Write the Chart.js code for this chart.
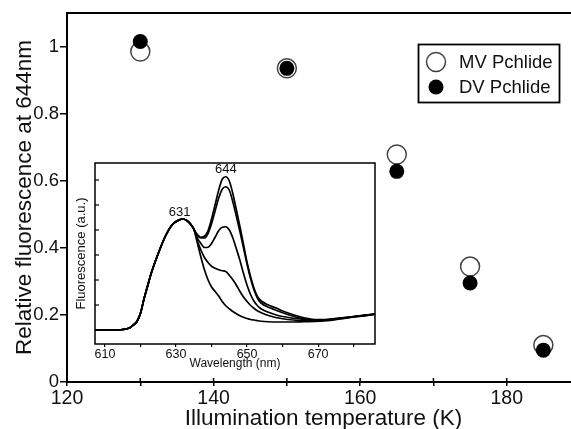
<!DOCTYPE html>
<html>
<head>
<meta charset="utf-8">
<script src="https://cdn.jsdelivr.net/npm/chart.js@4/dist/chart.umd.min.js"></script>
<style>
  html, body { margin: 0; padding: 0; background: #fff; overflow: hidden; width: 571px; height: 429px; }
  #main { position: absolute; left: 0; top: 0; width: 600px; height: 429px; }
  #inset { position: absolute; left: 70px; top: 158px; width: 310px; height: 212px; }
</style>
</head>
<body>
<canvas id="main" width="600" height="429"></canvas>
<canvas id="inset" width="310" height="212"></canvas>
<script>
// Relative 644 nm fluorescence versus illumination temperature
const temperatures = [130, 150, 165, 175, 185];
const mvPchlide = [0.985, 0.935, 0.678, 0.344, 0.110];
const dvPchlide = [1.015, 0.935, 0.628, 0.295, 0.095];
const temperatureTicks = [120, 130, 140, 150, 160, 170, 180, 190];
const temperatureLabels = [120, 140, 160, 180];
const fluorescenceTicks = [0, 0.2, 0.4, 0.6, 0.8, 1];

// Inset: emission spectra (arbitrary units)
const wavelengths = [607, 612, 615, 617, 618, 619, 620, 621, 622, 623, 625, 627, 629, 631, 632, 633, 634, 635,
  636, 637, 638, 639, 640, 641, 642, 643, 644, 645, 646, 647, 648, 649, 650, 651, 652, 653, 654,
  656, 658, 660, 663, 666, 669, 672, 676, 680, 686];
const spectrumA = [0, 0, 0.02, 0.09, 0.20, 0.34, 0.67, 1.25, 1.76, 2.26, 3.06, 3.75, 4.22, 4.41, 4.44, 4.38, 4.25, 4.04,
  3.82, 3.71, 3.75, 3.97, 4.44, 5.01, 5.59, 6.03, 6.13, 5.96, 5.45, 4.80, 4.13, 3.42, 2.70, 2.12, 1.65, 1.32, 1.16,
  1.00, 0.89, 0.76, 0.61, 0.49, 0.42, 0.42, 0.48, 0.54, 0.64];
const spectrumB = [0, 0, 0.02, 0.09, 0.20, 0.34, 0.67, 1.25, 1.76, 2.26, 3.06, 3.75, 4.22, 4.41, 4.44, 4.38, 4.25, 4.04,
  3.78, 3.68, 3.68, 3.86, 4.25, 4.76, 5.27, 5.63, 5.73, 5.59, 5.12, 4.54, 3.93, 3.28, 2.63, 2.05, 1.58, 1.25, 1.07,
  0.91, 0.80, 0.69, 0.55, 0.45, 0.40, 0.41, 0.47, 0.54, 0.64];
const spectrumC = [0, 0, 0.02, 0.09, 0.20, 0.34, 0.67, 1.25, 1.76, 2.26, 3.06, 3.75, 4.22, 4.41, 4.44, 4.38, 4.25, 4.04,
  3.68, 3.46, 3.30, 3.31, 3.46, 3.71, 3.97, 4.11, 4.13, 4.00, 3.68, 3.24, 2.78, 2.26, 1.79, 1.41, 1.14, 0.96, 0.84,
  0.71, 0.61, 0.54, 0.47, 0.42, 0.38, 0.40, 0.46, 0.53, 0.63];
const spectrumD = [0, 0, 0.02, 0.09, 0.20, 0.34, 0.67, 1.25, 1.76, 2.26, 3.06, 3.75, 4.22, 4.41, 4.44, 4.38, 4.25, 4.04,
  3.57, 3.20, 2.90, 2.70, 2.55, 2.47, 2.41, 2.37, 2.34, 2.19, 2.01, 1.79, 1.54, 1.32, 1.14, 0.98, 0.86, 0.76, 0.69,
  0.58, 0.50, 0.45, 0.40, 0.37, 0.36, 0.38, 0.45, 0.53, 0.63];
const spectrumE = [0, 0, 0.02, 0.09, 0.20, 0.34, 0.67, 1.25, 1.76, 2.26, 3.06, 3.75, 4.22, 4.41, 4.44, 4.38, 4.25, 4.04,
  3.49, 2.92, 2.41, 2.01, 1.72, 1.54, 1.36, 1.14, 0.97, 0.85, 0.74, 0.65, 0.57, 0.51, 0.46, 0.42, 0.40, 0.37, 0.35,
  0.33, 0.32, 0.32, 0.32, 0.33, 0.34, 0.37, 0.44, 0.52, 0.62];
const wavelengthTicks = [610, 620, 630, 640, 650, 660, 670, 680];
const wavelengthLabels = [610, 630, 650, 670];
const insetFluorTicks = [0, 1, 2, 3, 4, 5, 6];
const peakWavelengths = [631, 644];

const FONT = "'Liberation Sans', Arial, Helvetica, sans-serif";
const INK = '#111';

const toPoints = (xs, ys) => xs.map((x, i) => ({ x: x, y: ys[i] }));
const fixedTicks = list => scale => { scale.ticks = list.map(v => ({ value: v })); };

// Frame extras for the main plot: top rule, inward x ticks, and the boxed legend
const mainExtras = {
  id: 'mainExtras',
  afterDraw(chart) {
    const { ctx, chartArea } = chart;
    const x = chart.scales.x;
    ctx.save();
    ctx.strokeStyle = '#000';
    ctx.lineWidth = 2;
    ctx.beginPath();
    ctx.moveTo(chartArea.left - 1, chartArea.top);
    ctx.lineTo(chartArea.right + 1, chartArea.top);
    ctx.stroke();

    ctx.lineWidth = 1.5;
    temperatureTicks.forEach(v => {
      const px = x.getPixelForValue(v);
      ctx.beginPath();
      ctx.moveTo(px, chartArea.bottom);
      ctx.lineTo(px, chartArea.bottom - 4);
      ctx.stroke();
    });

    // legend box
    const bx = 418.5, by = 44.5, bw = 141, bh = 58;
    ctx.lineWidth = 1.8;
    ctx.strokeRect(bx, by, bw, bh);
    ctx.font = '18.5px ' + FONT;
    ctx.textBaseline = 'middle';
    ctx.textAlign = 'left';
    chart.data.datasets.forEach((ds, i) => {
      const cy = 62 + i * 25;
      ctx.beginPath();
      ctx.arc(436, cy, ds.pointRadius, 0, Math.PI * 2);
      ctx.fillStyle = ds.pointBackgroundColor;
      ctx.fill();
      if (ds.pointBorderWidth > 0) {
        ctx.lineWidth = ds.pointBorderWidth;
        ctx.strokeStyle = ds.pointBorderColor;
        ctx.stroke();
      }
      ctx.fillStyle = INK;
      ctx.fillText(ds.label, 459, cy + 1);
    });
    ctx.restore();
  }
};

new Chart(document.getElementById('main'), {
  type: 'scatter',
  data: {
    datasets: [
      {
        label: 'MV Pchlide',
        data: toPoints(temperatures, mvPchlide),
        pointRadius: 9.5,
        pointBackgroundColor: '#fff',
        pointBorderColor: '#444',
        pointBorderWidth: 1.5,
        order: 2
      },
      {
        label: 'DV Pchlide',
        data: toPoints(temperatures, dvPchlide),
        pointRadius: 7.5,
        pointBackgroundColor: '#000',
        pointBorderColor: '#000',
        pointBorderWidth: 0,
        order: 1
      }
    ]
  },
  options: {
    responsive: false,
    animation: false,
    devicePixelRatio: 1,
    layout: { padding: { top: 13, right: 20, left: 0, bottom: 0 } },
    plugins: { legend: { display: false }, tooltip: { enabled: false } },
    scales: {
      x: {
        type: 'linear',
        min: 120,
        max: 190,
        afterFit: s => { s.height = 47; },
        afterBuildTicks: fixedTicks(temperatureTicks),
        ticks: {
          callback: v => temperatureLabels.includes(v) ? String(v) : '',
          autoSkip: false,
          maxRotation: 0,
          padding: 1,
          color: INK,
          font: { family: FONT, size: 19.5 }
        },
        grid: { drawOnChartArea: false, tickLength: 4, color: '#000', lineWidth: 1.5 },
        border: { color: '#000', width: 2 },
        title: {
          display: true,
          text: 'Illumination temperature (K)',
          color: INK,
          font: { family: FONT, size: 22.5, lineHeight: 0.95 },
          padding: { top: 0, bottom: 0 }
        }
      },
      y: {
        type: 'linear',
        min: 0,
        max: 1.1,
        afterFit: s => { s.width = 67; },
        afterBuildTicks: fixedTicks(fluorescenceTicks),
        ticks: {
          callback: v => String(v),
          padding: 1,
          color: INK,
          font: { family: FONT, size: 18.5 }
        },
        grid: { drawOnChartArea: false, tickLength: 7, color: '#000', lineWidth: 1.5 },
        border: { color: '#000', width: 2 },
        title: {
          display: true,
          text: 'Relative fluorescence at 644nm',
          color: INK,
          font: { family: FONT, size: 22.5 },
          padding: { top: 11, bottom: 0 }
        }
      }
    }
  },
  plugins: [mainExtras]
});

// Inset frame: full box, inward y ticks and peak labels
const insetExtras = {
  id: 'insetExtras',
  afterDraw(chart) {
    const { ctx, chartArea } = chart;
    const x = chart.scales.x, y = chart.scales.y;
    ctx.save();
    ctx.strokeStyle = '#000';
    ctx.lineWidth = 1.5;
    ctx.strokeRect(chartArea.left, chartArea.top, chartArea.right - chartArea.left, chartArea.bottom - chartArea.top);
    ctx.lineWidth = 1.2;
    insetFluorTicks.forEach(v => {
      const py = y.getPixelForValue(v);
      ctx.beginPath();
      ctx.moveTo(chartArea.left, py);
      ctx.lineTo(chartArea.left + 4, py);
      ctx.stroke();
    });
    ctx.fillStyle = INK;
    ctx.font = '13px ' + FONT;
    ctx.textAlign = 'center';
    ctx.textBaseline = 'alphabetic';
    peakWavelengths.forEach(w => {
      const i = wavelengths.indexOf(w);
      let top = -Infinity;
      chart.data.datasets.forEach(ds => { top = Math.max(top, ds.data[i].y); });
      ctx.fillText(String(w), x.getPixelForValue(w), y.getPixelForValue(top) - 4);
    });
    ctx.restore();
  }
};

new Chart(document.getElementById('inset'), {
  type: 'line',
  data: {
    datasets: [spectrumA, spectrumB, spectrumC, spectrumD, spectrumE].map(s => ({
      data: toPoints(wavelengths, s),
      borderColor: '#000',
      borderWidth: 1.7,
      pointRadius: 0,
      fill: false,
      cubicInterpolationMode: 'monotone'
    }))
  },
  options: {
    responsive: false,
    animation: false,
    devicePixelRatio: 1,
    layout: { padding: { top: 5, right: 5, left: 0, bottom: 0 } },
    plugins: { legend: { display: false }, tooltip: { enabled: false } },
    scales: {
      x: {
        type: 'linear',
        min: 607.2,
        max: 686,
        afterFit: s => { s.height = 26; },
        afterBuildTicks: fixedTicks(wavelengthTicks),
        ticks: {
          callback: v => wavelengthLabels.includes(v) ? String(v) : '',
          autoSkip: false,
          maxRotation: 0,
          padding: 0,
          color: INK,
          font: { family: FONT, size: 12.5 }
        },
        grid: { drawOnChartArea: false, tickLength: 3, color: '#000', lineWidth: 1.2 },
        border: { display: false },
        title: {
          display: true,
          text: 'Wavelength (nm)',
          color: INK,
          font: { family: FONT, size: 12, lineHeight: 1 },
          padding: { top: 0, bottom: 0 }
        }
      },
      y: {
        type: 'linear',
        min: -0.56,
        max: 6.68,
        afterFit: s => { s.width = 25; },
        afterBuildTicks: fixedTicks(insetFluorTicks),
        ticks: { display: false },
        grid: { display: false },
        border: { display: false },
        title: {
          display: true,
          text: 'Fluorescence (a.u.)',
          color: INK,
          font: { family: FONT, size: 13 },
          padding: { top: 4, bottom: 0 }
        }
      }
    }
  },
  plugins: [insetExtras]
});
</script>
</body>
</html>
